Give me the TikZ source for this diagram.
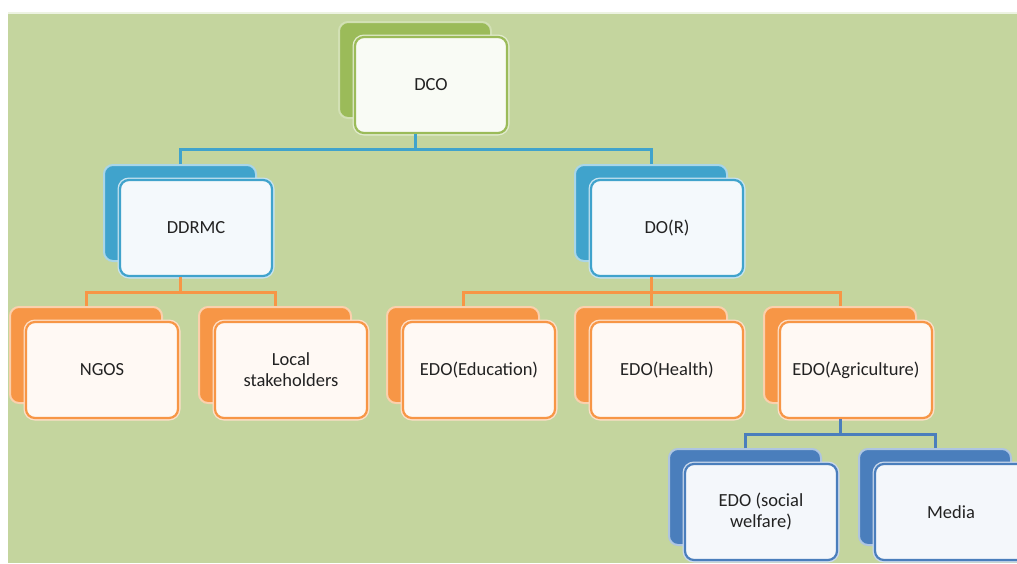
\documentclass[tikz,border=0pt]{standalone}
\usepackage{fontspec}
\setmainfont{Carlito}
\usetikzlibrary{calc}
\definecolor{bg}{HTML}{C4D59E}
\definecolor{cgreen}{HTML}{9BBB59}
\definecolor{caqua}{HTML}{40A3CC}
\definecolor{corange}{HTML}{F79646}
\definecolor{cblue}{HTML}{4A7EBC}
\definecolor{txt}{HTML}{222222}
\tikzset{
  backcard/.style={draw=white!55!#1, line width=2pt, fill=#1, rounded corners=9pt,
    minimum width=152pt, minimum height=96pt, inner sep=0pt},
  frontcard/.style={draw=#1, line width=2.2pt, fill=white!94!#1, rounded corners=9pt,
    minimum width=152pt, minimum height=96pt, inner sep=0pt, align=center, text=txt,
    font=\fontsize{18.5}{21}\selectfont,
    preaction={draw=white!70!#1, line width=5pt}},
  conn/.style={draw=#1, line width=3pt},
}
\begin{document}
\begin{tikzpicture}[x=1pt,y=-1pt]
\useasboundingbox (0,0) rectangle (1017,563);
\fill[white] (0,0) rectangle (1017,563);
\fill[bg] (8,12) rectangle (1017,563);
\draw[white!70!bg, line width=1.5pt] (8,13) -- (1017,13);
% row 1
\node[backcard=cgreen] (bDCO) at (415,70) {};
\node[frontcard=cgreen] (DCO) at (431,85) {DCO};
% row 2
\node[backcard=caqua] (bDDRMC) at (180,213) {};
\node[frontcard=caqua] (DDRMC) at (196,228) {DDRMC};
\node[backcard=caqua] (bDOR) at (651,213) {};
\node[frontcard=caqua] (DOR) at (667,228) {DO(R)};
% row 3
\node[backcard=corange] (bNGOS) at (86,355) {};
\node[frontcard=corange] (NGOS) at (102,370) {NGOS};
\node[backcard=corange] (bLocal) at (275,355) {};
\node[frontcard=corange] (Local) at (291,370) {Local\\stakeholders};
\node[backcard=corange] (bEdu) at (463,355) {};
\node[frontcard=corange] (Edu) at (479,370) {EDO(Education)};
\node[backcard=corange] (bHealth) at (651,355) {};
\node[frontcard=corange] (Health) at (667,370) {EDO(Health)};
\node[backcard=corange] (bAgri) at (840,355) {};
\node[frontcard=corange] (Agri) at (856,370) {EDO(Agriculture)};
% row 4
\node[backcard=cblue] (bSocial) at (745,497) {};
\node[frontcard=cblue] (Social) at (761,512) {EDO (social\\welfare)};
\node[backcard=cblue] (bMedia) at (935,497) {};
\node[frontcard=cblue] (Media) at (951,512) {Media};
% connectors
\coordinate (j1) at ($(bDCO.center |- DCO.south)+(0,15)$);
\draw[conn=caqua] (bDCO.center |- DCO.south) -- (j1);
\draw[conn=caqua] (bDDRMC.north) |- (j1) -| (bDOR.north);
\coordinate (j2) at ($(bDDRMC.center |- DDRMC.south)+(0,15)$);
\draw[conn=corange] (bDDRMC.center |- DDRMC.south) -- (j2);
\draw[conn=corange] (bNGOS.north) |- (j2) -| (bLocal.north);
\coordinate (j3) at ($(bDOR.center |- DOR.south)+(0,15)$);
\draw[conn=corange] (bDOR.center |- DOR.south) -- (j3) -- (bHealth.north);
\draw[conn=corange] (bEdu.north) |- (j3) -| (bAgri.north);
\coordinate (j4) at ($(bAgri.center |- Agri.south)+(0,15)$);
\draw[conn=cblue] (bAgri.center |- Agri.south) -- (j4);
\draw[conn=cblue] (bSocial.north) |- (j4) -| (bMedia.north);
\end{tikzpicture}
\end{document}
